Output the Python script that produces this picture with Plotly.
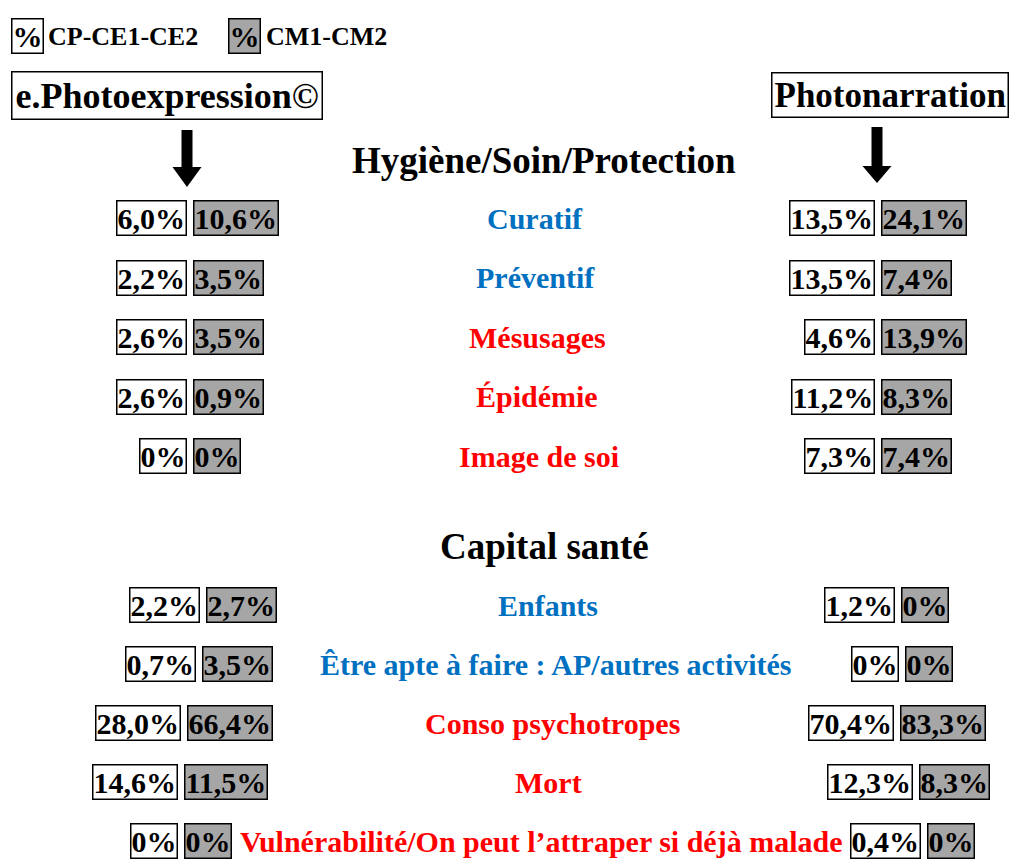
import plotly.graph_objects as go

# ---------------- data ----------------
hyg_labels = ["Curatif", "Préventif", "Mésusages", "Épidémie", "Image de soi"]
hyg_kind = ["blue", "blue", "red", "red", "red"]
hyg_pe_cp = [6.0, 2.2, 2.6, 2.6, 0]
hyg_pe_cm = [10.6, 3.5, 3.5, 0.9, 0]
hyg_pn_cp = [13.5, 13.5, 4.6, 11.2, 7.3]
hyg_pn_cm = [24.1, 7.4, 13.9, 8.3, 7.4]

cap_labels = ["Enfants", "Être apte à faire : AP/autres activités", "Conso psychotropes",
              "Mort", "Vulnérabilité/On peut l’attraper si déjà malade"]
cap_kind = ["blue", "blue", "red", "red", "red"]
cap_pe_cp = [2.2, 0.7, 28.0, 14.6, 0]
cap_pe_cm = [2.7, 3.5, 66.4, 11.5, 0]
cap_pn_cp = [1.2, 0, 70.4, 12.3, 0.4]
cap_pn_cm = [0, 0, 83.3, 8.3, 0]

section_titles = ["Hygiène/Soin/Protection", "Capital santé"]
method_titles = ["e.Photoexpression©", "Photonarration"]
legend_labels = ["CP-CE1-CE2", "CM1-CM2"]

# ---------------- style ----------------
FONT = "Liberation Serif"
BLUE = "#0070C0"
RED = "#FF0000"
GREY = "#a6a6a6"
COLORS = {"blue": BLUE, "red": RED}
W, H = 1011, 860


def fmt(v):
    if v == 0:
        return "0%"
    return f"{v:.1f}".replace(".", ",") + "%"


fig = go.Figure()
fig.add_trace(go.Scatter(x=[0, W], y=[0, H], mode="markers",
                         marker=dict(opacity=0), hoverinfo="skip", showlegend=False))

ann = []


def text(x, y, s, size, color="black", xanchor="center", bg=None, border=False, pad=0):
    d = dict(x=x, y=y, xref="x", yref="y", text=f"<b>{s}</b>", showarrow=False,
             xanchor=xanchor, yanchor="middle",
             font=dict(family=FONT, size=size, color=color))
    if bg is not None:
        d["bgcolor"] = bg
    if border:
        d["bordercolor"] = "black"
        d["borderwidth"] = 1.5
        d["borderpad"] = pad
    ann.append(d)


# legend
text(11, 36, "%", 30, xanchor="left", bg="white", border=True, pad=0)
text(46, 36, legend_labels[0], 26, xanchor="left")
text(228, 36, "%", 30, xanchor="left", bg=GREY, border=True, pad=0)
text(264, 36, legend_labels[1], 26, xanchor="left")

# method headers
text(11, 95, method_titles[0], 36, xanchor="left", bg="white", border=True, pad=3)
text(1009, 95, method_titles[1], 35, xanchor="right", bg="white", border=True, pad=2)

# section titles
text(544, 160, section_titles[0], 37)
text(544, 546, section_titles[1], 37)

VS = 30
LABEL_X = [535, 535, 537, 537, 539, 548, 556, 552, 548, 541]


def add_rows(labels, kinds, pe_cp, pe_cm, pn_cp, pn_cm, y0, step, lgaps, rgaps, lx):
    for i, lab in enumerate(labels):
        y = y0 + i * step
        text(lx[i], y, lab, 30, color=COLORS[kinds[i]])
        lg, rg = lgaps[i], rgaps[i]
        text(lg - 3, y, fmt(pe_cp[i]), VS, xanchor="right", bg="white", border=True, pad=0)
        text(lg + 3, y, fmt(pe_cm[i]), VS, xanchor="left", bg=GREY, border=True, pad=0)
        text(rg - 3, y, fmt(pn_cp[i]), VS, xanchor="right", bg="white", border=True, pad=0)
        text(rg + 3, y, fmt(pn_cm[i]), VS, xanchor="left", bg=GREY, border=True, pad=0)


add_rows(hyg_labels, hyg_kind, hyg_pe_cp, hyg_pe_cm, hyg_pn_cp, hyg_pn_cm,
         218, 59.5, [190] * 5, [878] * 5, LABEL_X[:5])
add_rows(cap_labels, cap_kind, cap_pe_cp, cap_pe_cm, cap_pn_cp, cap_pn_cm,
         605, 59, [203, 199, 184, 181, 181], [898, 902, 897, 916, 924], LABEL_X[5:])

# arrows (decorative shapes)
shapes = []
for cx, top, base, tip in [(187, 130, 167, 187), (877, 127, 166, 183)]:
    sw, hw = 5.5, 14.5
    path = (f"M {cx-sw},{top} L {cx+sw},{top} L {cx+sw},{base} L {cx+hw},{base} "
            f"L {cx},{tip} L {cx-hw},{base} L {cx-sw},{base} Z")
    shapes.append(dict(type="path", path=path, xref="x", yref="y",
                       fillcolor="black", line=dict(width=0)))

fig.update_layout(
    width=W, height=H, margin=dict(l=0, r=0, t=0, b=0),
    paper_bgcolor="white", plot_bgcolor="white",
    xaxis=dict(range=[0, W], visible=False, fixedrange=True),
    yaxis=dict(range=[H, 0], visible=False, fixedrange=True),
    annotations=ann, shapes=shapes, showlegend=False,
)

fig.write_html("out.html", config={"displayModeBar": False},
               post_script="document.body.style.margin='0';document.body.style.overflow='hidden';")
